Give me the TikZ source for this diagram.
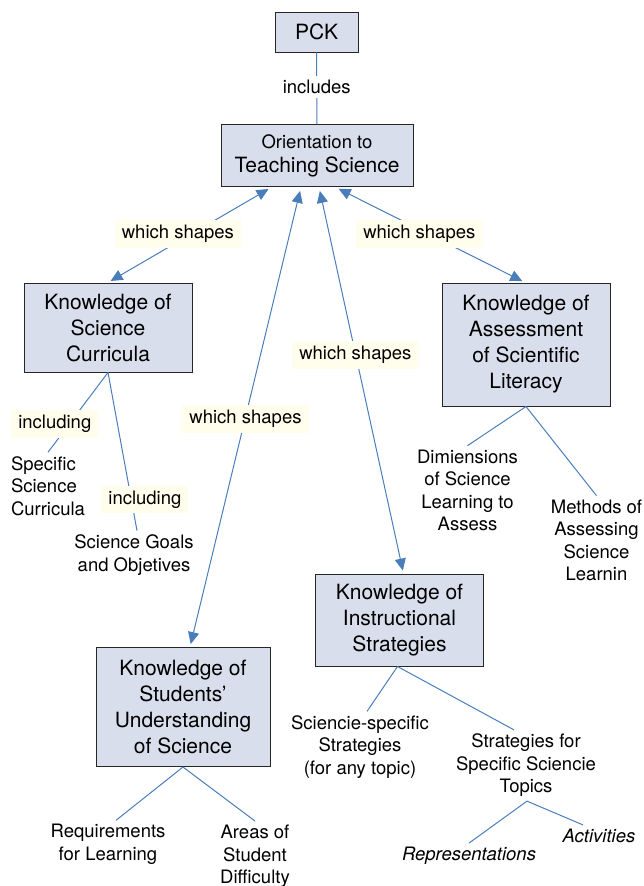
\documentclass[tikz,border=0pt]{standalone}
\usepackage{fontspec}
\setmainfont{TeX Gyre Heros}
\usepackage{tikz}
\usetikzlibrary{arrows.meta}
\definecolor{boxfill}{RGB}{217,222,236}
\definecolor{linkblue}{RGB}{74,126,187}
\definecolor{cream}{RGB}{255,254,236}
\tikzset{% looks of the concept map
        concept/.style={draw=black!85, line width=1pt, fill=boxfill, align=center,
          font=\fontsize{21}{26}\selectfont, inner xsep=19pt, minimum width=168pt},
        leaf/.style={align=center, inner sep=4pt, font=\fontsize{18.5}{22.5}\selectfont},
        linkword/.style={fill=cream, text=black, inner xsep=7pt, inner ysep=5pt, yshift=-2pt,
          font=\fontsize{18.5}{22.5}\selectfont},
        link/.style={linkblue, line width=1pt},
        twoway/.style={link, {Triangle[length=12pt,width=11pt]}-{Triangle[length=12pt,width=11pt]},
          shorten <=4pt, shorten >=3pt}
        }

\begin{document}
\begin{tikzpicture}[x=1pt,y=-1pt]
\useasboundingbox (0,0) rectangle (644,886);
% boxes
\node[concept, minimum width=83pt, minimum height=40pt, inner xsep=8pt] (pck) at (316.5,32) {PCK};
\node[concept, minimum width=192pt, minimum height=62pt, inner xsep=8pt,
      font=\fontsize{21}{24}\selectfont] (orient) at (317,155.5)
      {{\fontsize{18.5}{24}\selectfont Orientation to}\\Teaching Science};
\node[concept, minimum height=89pt] (curr) at (108,327.5) {Knowledge of\\Science\\Curricula};
\node[concept, minimum height=123pt] (assess) at (526,344.5) {Knowledge of\\Assessment\\of Scientific\\Literacy};
\node[concept, minimum height=92pt] (instr) at (399.5,620) {Knowledge of\\Instructional\\Strategies};
\node[concept, minimum width=174pt, minimum height=119pt, inner xsep=15pt] (stud) at (183,707)
      {Knowledge of\\Students'\\Understanding\\of Science};

% plain texts
\node[leaf, align=left] (spec) at (48,486) {Specific\\Science\\Curricula};
\node[leaf] (goals) at (134,555) {Science Goals\\and Objetives};
\node[leaf] (dims) at (467.5,490.5) {Dimiensions\\of Science\\Learning to\\Assess};
\node[leaf] (meth) at (596.5,540.5) {Methods of\\Assessing\\Science\\Learnin};
\node[leaf] (sspec) at (360,747) {Sciencie-specific\\Strategies\\(for any topic)};
\node[leaf] (stopic) at (526,765.5) {Strategies for\\Specific Sciencie\\Topics};
\node[leaf, font=\fontsize{18.5}{22.5}\selectfont\itshape] (repr) at (469,856) {Representations};
\node[leaf, font=\fontsize{18.5}{22.5}\selectfont\itshape] (act) at (599,836) {Activities};
\node[leaf] (req) at (108,844.5) {Requirements\\for Learning};
\node[leaf] (areas) at (255,856.5) {Areas of\\Student\\Difficulty};

% links
\draw[link] (pck) -- node[linkword, fill=white, inner ysep=4pt, pos=0.45] {includes} (orient);
\draw[twoway] ([xshift=-45pt]orient.south) -- node[linkword, pos=0.47, xshift=-17pt] {which shapes} (curr.north);
\draw[twoway] ([xshift=-16pt]orient.south) -- node[linkword, pos=0.5] {which shapes} ([xshift=7pt]stud.north);
\draw[twoway] ([xshift=2pt]orient.south) -- node[linkword, pos=0.43] {which shapes} ([xshift=4pt]instr.north);
\draw[twoway] ([xshift=18pt]orient.south) -- node[linkword, pos=0.47, xshift=-5pt] {which shapes} ([xshift=-1pt]assess.north);

\draw[link] (curr.south) -- node[linkword, pos=0.62, xshift=-16pt] {including} (spec.north);
\draw[link] (curr.south) -- node[linkword, pos=0.79, xshift=14pt] {including} ([xshift=3pt]goals.north);
\draw[link] (assess.south) -- (dims.north);
\draw[link] (assess.south) -- (meth.north);
\draw[link] ([xshift=-2pt]instr.south) -- ([xshift=7pt]sspec.north);
\draw[link] ([xshift=-2pt]instr.south) -- ([xshift=-12pt]stopic.north);
\draw[link] ([xshift=1pt]stopic.south) -- (repr.north);
\draw[link] ([xshift=1pt]stopic.south) -- ([xshift=-16pt]act.north);
\draw[link] (stud.south) -- ([xshift=8pt]req.north);
\draw[link] (stud.south) -- (areas.north);
\end{tikzpicture}
\end{document}
